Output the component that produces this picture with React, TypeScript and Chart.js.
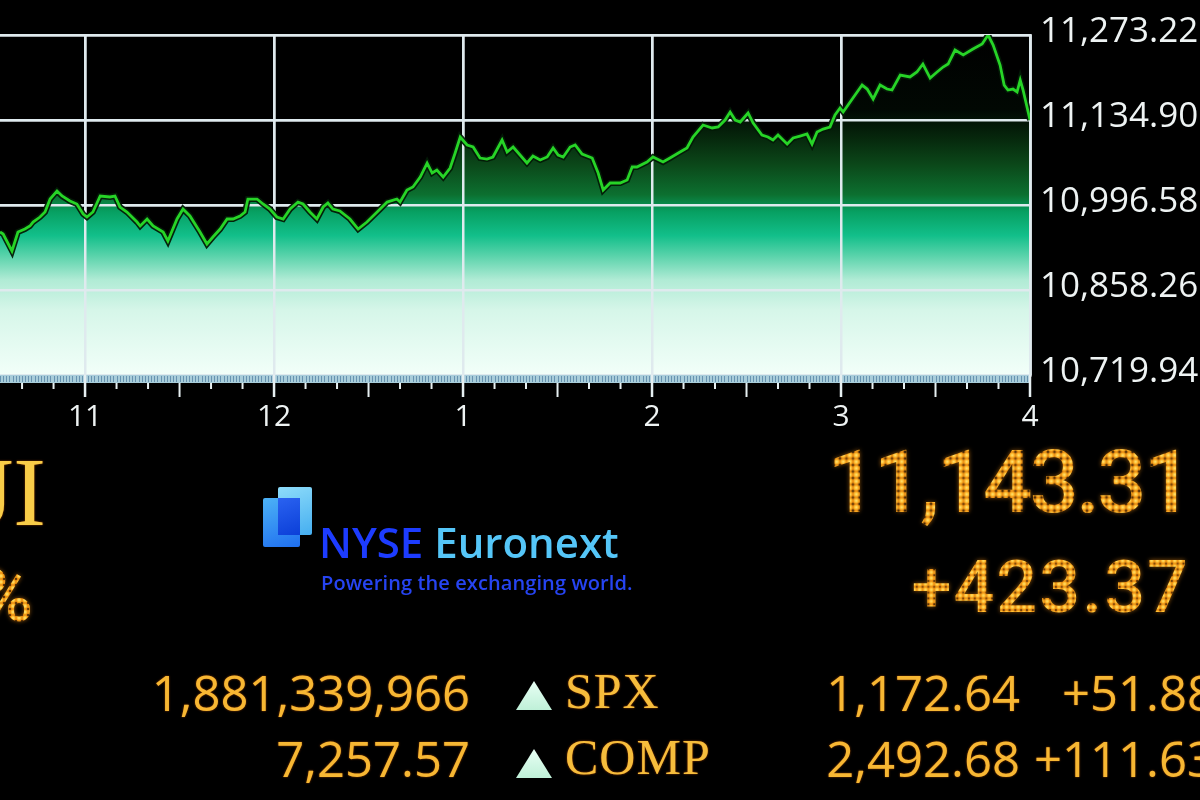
import React, { useEffect, useRef } from 'react';
import { Chart, registerables } from 'chart.js';

Chart.register(...registerables);

// ---- DATA ----
// Session time in minutes after midnight (10:33 .. 16:00)
const times: number[] = [
  633.0, 634.0, 636.8, 638.7, 640.9, 642.5, 643.5, 645.7, 647.3, 648.9, 651.1, 652.7, 655.2, 657.4, 659.4,
  660.6, 662.5, 664.8, 667.9, 669.5, 671.1, 673.3, 676.5, 677.5, 679.7, 681.6, 684.8, 686.3, 689.2, 691.1,
  693.3, 696.5, 698.7, 700.6, 702.9, 705.1, 707.0, 709.2, 710.8, 711.7, 714.6, 716.5, 718.7, 720.9, 722.9,
  725.1, 727.6, 729.2, 731.4, 733.6, 735.6, 737.1, 738.7, 740.9, 744.1, 746.7, 749.5, 753.7, 755.9, 759.0,
  760.0, 762.2, 764.1, 766.4, 768.6, 770.2, 771.7, 773.7, 775.9, 777.5, 779.1, 781.3, 783.2, 785.4, 787.6,
  789.5, 792.4, 794.0, 795.9, 798.1, 800.3, 802.2, 804.5, 806.7, 808.6, 810.2, 811.8, 814.0, 815.6, 817.8,
  821.0, 822.9, 824.5, 826.7, 829.9, 832.1, 833.7, 835.2, 838.4, 840.3, 843.5, 845.7, 848.9, 851.1, 853.0,
  856.2, 859.1, 861.0, 863.2, 864.8, 866.4, 868.0, 870.5, 872.1, 874.9, 876.8, 878.4, 880.0, 882.9, 884.8,
  887.0,
  889.2, 890.8, 892.4, 894.3, 896.5, 898.1, 899.7, 900.7, 902.9, 906.7, 908.3, 910.2, 912.4, 914.6, 916.2,
  918.8, 921.9, 924.1, 926.0, 928.3, 930.5, 932.4, 934.0, 936.2, 938.8, 941.9, 944.8, 946.7, 948.3, 950.5,
  951.8, 953.0, 954.6, 955.9, 956.9, 957.8, 960.0,
];

// DJIA index level
const values: number[] = [
  10952.6, 10949.4, 10921.7, 10952.6, 10957.5, 10962.4, 10968.9, 10977.0, 10985.2, 11006.3, 11019.3, 11011.2, 11003.1, 10998.2, 10981.9,
  10977.0, 10985.2, 11011.2, 11009.6, 11011.2, 10993.3, 10985.2, 10968.9, 10962.4, 10973.8, 10962.4, 10952.6, 10938.0, 10973.8, 10990.0,
  10978.7, 10952.6, 10933.1, 10944.5, 10957.5, 10973.8, 10973.8, 10978.7, 10985.2, 11006.3, 11006.3, 10998.2, 10990.0, 10977.0, 10973.8,
  10990.0, 11001.4, 10998.2, 10985.2, 10973.8, 10993.3, 10999.8, 10990.0, 10986.8, 10973.8, 10957.5, 10968.9, 10990.0, 11001.4, 11006.3,
  11001.4, 11021.0, 11025.9, 11042.1, 11064.9, 11048.6, 11053.5, 11042.1, 11056.8, 11081.2, 11107.2, 11094.2, 11090.9, 11073.0, 11071.4,
  11074.7, 11102.3, 11082.8, 11090.9, 11077.9, 11064.9, 11076.3, 11069.8, 11074.7, 11089.3, 11077.9, 11074.7, 11090.9, 11094.2, 11079.6,
  11073.0, 11048.6, 11021.0, 11032.4, 11032.4, 11037.2, 11058.4, 11058.4, 11066.5, 11074.7, 11066.5, 11073.0, 11082.8, 11089.3, 11107.2,
  11126.7, 11121.9, 11123.5, 11134.9, 11147.9, 11134.9, 11131.6, 11146.3, 11130.0, 11110.5, 11107.2, 11102.3, 11110.5, 11095.8, 11105.6,
  11108.8,
  11112.1, 11095.8, 11115.4, 11120.2, 11123.5, 11143.0, 11154.4, 11147.9, 11164.2, 11191.8, 11185.3, 11169.1, 11191.8, 11185.3, 11183.7,
  11208.1, 11204.9, 11213.0, 11226.0, 11203.2, 11213.0, 11221.1, 11226.0, 11248.8, 11240.7, 11250.4, 11258.6, 11273.2, 11256.9, 11224.4,
  11191.8, 11183.7, 11185.3, 11180.5, 11200.0, 11183.7, 11134.9,
];

const sessionStart = 633;
const sessionEnd = 960;
const hourTicks: number[] = [660, 720, 780, 840, 900, 960];
const hourLabels: string[] = ['11', '12', '1', '2', '3', '4'];
const priceTicks: number[] = [10719.94, 10858.26, 10996.58, 11134.9, 11273.22];

const indexName = 'DJI';
const indexLast = '11,143.31';
const indexChange = '+423.37';
const volume = '1,881,339,966';
const advancers = '7,257.57';
const tickerRows = [
  { left: volume, sym: 'SPX', last: '1,172.64', chg: '+51.88' },
  { left: advancers, sym: 'COMP', last: '2,492.68', chg: '+111.63' },
];

// ---- STYLE ----
const GRID = '#dfeaee';
const GOLD = '#f7b733';

const gridOverFill = {
  id: 'gridOverFill',
  beforeDatasetDraw(chart: any, args: any) {
    if (args.index !== 1) return;
    const area = chart.chartArea;
    chart.scales.x.drawGrid(area);
    chart.scales.y.drawGrid(area);
    if (typeof chart.scales.y.drawBorder === 'function') chart.scales.y.drawBorder();
  },
};

const timeTicks = {
  id: 'timeTicks',
  afterDatasetsDraw(chart: any) {
    const { ctx, chartArea, scales } = chart;
    const x = scales.x;
    const y0 = chartArea.bottom;
    ctx.save();
    ctx.fillStyle = '#a8cdda';
    ctx.fillRect(chartArea.left, y0, chartArea.right - chartArea.left, 8);
    ctx.strokeStyle = '#6893b0';
    ctx.lineWidth = 1;
    for (let m = Math.ceil(x.min); m <= x.max; m++) {
      const px = Math.round(x.getPixelForValue(m)) + 0.5;
      ctx.beginPath();
      ctx.moveTo(px, y0 + 1);
      ctx.lineTo(px, y0 + 7);
      ctx.stroke();
    }
    ctx.strokeStyle = '#e6eff1';
    for (let m = Math.ceil(x.min / 10) * 10; m <= x.max; m += 10) {
      const px = x.getPixelForValue(m);
      const hour = m % 60 === 0;
      const half = m % 30 === 0;
      ctx.lineWidth = hour ? 2.5 : 2;
      ctx.beginPath();
      ctx.moveTo(px, hour ? y0 : y0 + 8);
      ctx.lineTo(px, y0 + (half ? 22 : 14));
      ctx.stroke();
    }
    ctx.restore();
  },
};

function fillGradient(context: any) {
  const chart = context.chart;
  const area = chart.chartArea;
  if (!area) return 'transparent';
  const g = chart.ctx.createLinearGradient(0, area.top, 0, area.bottom);
  g.addColorStop(0, '#000000');
  g.addColorStop(0.22, '#010803');
  g.addColorStop(0.3, '#06260c');
  g.addColorStop(0.38, '#0b4719');
  g.addColorStop(0.47, '#0c7030');
  g.addColorStop(0.52, '#07a062');
  g.addColorStop(0.59, '#12bf8a');
  g.addColorStop(0.65, '#5ad3ab');
  g.addColorStop(0.72, '#b0ebd5');
  g.addColorStop(0.81, '#d6f6e9');
  g.addColorStop(1, '#f2fff9');
  return g;
}

function ChartCanvas() {
  const ref = useRef<HTMLCanvasElement | null>(null);
  useEffect(() => {
    if (!ref.current) return;
    const points = times.map((t, i) => ({ x: t, y: values[i] }));
    const chart = new Chart(ref.current, {
      type: 'line',
      data: {
        datasets: [
          { data: points, order: 3, fill: 'start', backgroundColor: fillGradient, borderWidth: 0, borderColor: 'transparent', pointRadius: 0 },
          { data: points, order: 2, fill: false, borderColor: 'rgba(3,26,6,0.95)', borderWidth: 6, pointRadius: 0 },
          { data: points, order: 1, fill: false, borderColor: '#27d427', borderWidth: 2.8, pointRadius: 0 },
        ] as any,
      },
      options: {
        animation: false,
        responsive: false,
        devicePixelRatio: 1,
        layout: { padding: { top: 35, left: 0, right: 0, bottom: 0 } },
        plugins: { legend: { display: false }, tooltip: { enabled: false } },
        scales: {
          x: {
            type: 'linear',
            min: sessionStart,
            max: sessionEnd,
            afterBuildTicks: (s: any) => { s.ticks = hourTicks.map((v) => ({ value: v })); },
            afterFit: (s: any) => { s.height = 425; },
            grid: { color: GRID, lineWidth: 2.5, drawTicks: false },
            border: { display: false },
            ticks: {
              autoSkip: false,
              maxRotation: 0,
              padding: 24,
              color: '#eef3f3',
              font: { family: 'Open Sans', size: 30 },
              callback: (v: any) => { const i = hourTicks.indexOf(Number(v)); return i >= 0 ? hourLabels[i] : ''; },
            },
          },
          y: {
            position: 'right',
            min: priceTicks[0],
            max: priceTicks[priceTicks.length - 1],
            afterBuildTicks: (s: any) => { s.ticks = priceTicks.map((v) => ({ value: v })); },
            afterFit: (s: any) => { s.width = 170; },
            grid: { color: GRID, lineWidth: 2.5, drawTicks: false },
            border: { display: true, color: GRID, width: 2.5 },
            ticks: {
              padding: 10,
              labelOffset: -3,
              color: '#eef3f3',
              font: { family: 'Open Sans', size: 35 },
              callback: (v: any) => Number(v).toLocaleString('en-US', { minimumFractionDigits: 2, maximumFractionDigits: 2 }),
            },
          },
        },
      } as any,
      plugins: [gridOverFill, timeTicks],
    });
    return () => chart.destroy();
  }, []);
  return <canvas ref={ref} width={1200} height={800} style={{ position: 'absolute', left: 0, top: 0, width: 1200, height: 800 }} />;
}

const led = (pitch: number, r: number, weight: number): React.CSSProperties => ({
  backgroundImage: `radial-gradient(circle, #ffe27a 0, #ffc233 ${r * 0.55}px, #e88a12 ${r}px, transparent ${r + 0.7}px)`,
  backgroundSize: `${pitch}px ${pitch}px`,
  WebkitBackgroundClip: 'text',
  backgroundClip: 'text',
  color: 'transparent',
  WebkitTextFillColor: 'transparent',
  filter: 'drop-shadow(0 0 2px rgba(255,150,20,0.6))',
  fontFamily: 'Roboto',
  fontWeight: weight,
  whiteSpace: 'nowrap',
});

const abs = (s: React.CSSProperties): React.CSSProperties => ({ position: 'absolute', whiteSpace: 'nowrap', margin: 0, ...s });

const numStyle = (fs: number): React.CSSProperties => ({
  fontFamily: 'Open Sans', fontSize: fs, lineHeight: `${fs}px`, color: GOLD,
  textShadow: '0 0 2px rgba(200,90,0,0.8)',
});
const serifStyle = (fs: number): React.CSSProperties => ({
  fontFamily: 'Liberation Serif', fontSize: fs, lineHeight: `${fs}px`, color: '#f6bd3c',
  textShadow: '0 0 2px rgba(190,80,0,0.9)',
});

function Triangle({ top }: { top: number }) {
  return (
    <div style={abs({ left: 516, top, width: 36, height: 29, background: 'linear-gradient(#e8fff4, #bff0d8)', clipPath: 'polygon(50% 0, 100% 100%, 0 100%)' })} />
  );
}

export default function App() {
  return (
    <div style={{ position: 'fixed', left: 0, top: 0, width: 1200, height: 800, background: '#000', overflow: 'hidden' }}>
      <ChartCanvas />

      {/* index name (cut at left edge) */}
      <div style={abs({ right: 1154, top: 443, ...serifStyle(98), color: '#f8cc48' })}>{indexName}</div>
      <div style={abs({ right: 1167, top: 561, fontSize: 72, lineHeight: '72px', ...led(6, 2.9, 500) })}>%</div>

      {/* NYSE Euronext logo */}
      <div style={abs({ left: 278, top: 487, width: 34, height: 48, borderRadius: 2, background: 'linear-gradient(160deg, #8edcfa, #45aef0)' })} />
      <div style={abs({ left: 263, top: 498, width: 37, height: 49, borderRadius: 2, background: 'linear-gradient(160deg, #4cb2f6, #1f6ff0)' })} />
      <div style={abs({ left: 278, top: 498, width: 22, height: 37, background: 'linear-gradient(160deg, #2a62f0, #0b3fd8)' })} />
      <div style={abs({ left: 319, top: 521, fontFamily: 'Open Sans', fontSize: 42, lineHeight: '42px', fontWeight: 600 })}>
        <span style={{ color: '#1d3cff' }}>NYSE</span>{' '}
        <span style={{ color: '#55c6f8' }}>Euronext</span>
      </div>
      <div style={abs({ left: 321, top: 573, fontFamily: 'Open Sans', fontSize: 20, lineHeight: '20px', fontWeight: 600, color: '#2644f2', letterSpacing: 0.1 })}>
        Powering the exchanging world.
      </div>

      {/* LED index value */}
      <div style={abs({ right: 10, top: 439, fontSize: 87, lineHeight: '87px', letterSpacing: -3, ...led(6.5, 3.1, 500) })}>{indexLast}</div>
      <div style={abs({ right: 10, top: 552, fontSize: 72, lineHeight: '72px', letterSpacing: 2, ...led(5.8, 2.8, 500) })}>{indexChange}</div>

      {/* ticker rows */}
      {tickerRows.map((r, i) => {
        const top = i === 0 ? 668 : 734;
        return (
          <React.Fragment key={r.sym}>
            <div style={abs({ right: 730, top, ...numStyle(49) })}>{r.left}</div>
            <Triangle top={i === 0 ? 681 : 749} />
            <div style={abs({ left: 565, top: top - 2, ...serifStyle(50), letterSpacing: 1 })}>{r.sym}</div>
            <div style={abs({ right: 180, top, ...numStyle(49) })}>{r.last}</div>
            <div style={abs({ right: -15, top, ...numStyle(49) })}>{r.chg}</div>
          </React.Fragment>
        );
      })}
    </div>
  );
}
